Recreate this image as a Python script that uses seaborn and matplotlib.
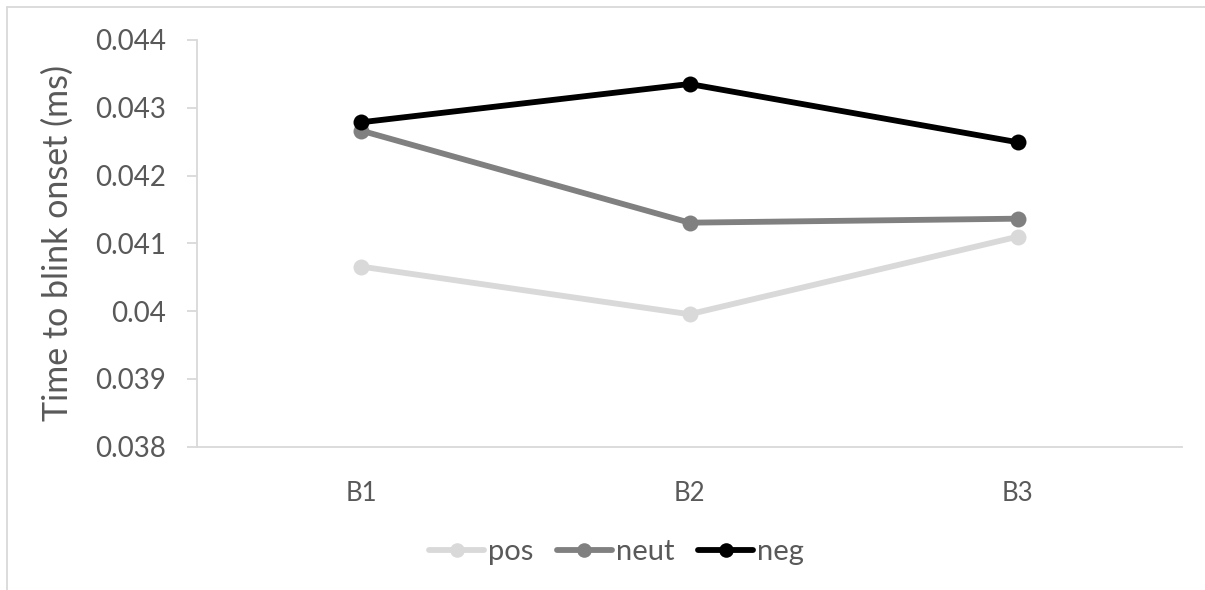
import matplotlib
matplotlib.use("Agg")
import matplotlib.pyplot as plt
from matplotlib.lines import Line2D
import seaborn as sns
import pandas as pd

# Blink-onset timing per block and valence condition
blocks = ["B1", "B2", "B3"]
conditions = ["pos", "neut", "neg"]
pos_vals = [0.040657, 0.039954, 0.041099]
neut_vals = [0.042663, 0.041305, 0.041364]
neg_vals = [0.042786, 0.043351, 0.042491]
y_ticks = [0.038, 0.039, 0.04, 0.041, 0.042, 0.043, 0.044]
y_tick_labels = ["0.038", "0.039", "0.04", "0.041", "0.042", "0.043", "0.044"]
colors = {"pos": "#D9D9D9", "neut": "#808080", "neg": "#000000"}

df = pd.DataFrame({
    "block": blocks * 3,
    "condition": ["pos"] * 3 + ["neut"] * 3 + ["neg"] * 3,
    "time": pos_vals + neut_vals + neg_vals,
})

sns.set_theme(style="white")
plt.rcParams["font.family"] = ["Lato", "DejaVu Sans"]

text_color = "#595959"
axis_color = "#D9D9D9"
line_w = 4.2
marker_s = 11.5

fig = plt.figure(figsize=(12.05, 5.90), dpi=100)
ax = fig.add_axes([197 / 1205, 1 - 446.7 / 590, (1182 - 197) / 1205, (446.7 - 40) / 590])

sns.lineplot(
    data=df, x="block", y="time", hue="condition", hue_order=conditions,
    palette=colors, marker="o", markersize=marker_s, markeredgewidth=0,
    linewidth=line_w, sort=False, legend=False, ax=ax,
)

ax.set_xlim(-0.5, 2.5)
ax.set_ylim(0.038, 0.044)
ax.set_yticks(y_ticks)
ax.set_yticklabels(y_tick_labels)
ax.set_xlabel("")
ax.set_ylabel("Time to blink onset (ms)", fontsize=24.5, color=text_color, labelpad=15)

for side in ["top", "right"]:
    ax.spines[side].set_visible(False)
for side in ["left", "bottom"]:
    ax.spines[side].set_color(axis_color)
    ax.spines[side].set_linewidth(1.3)

ax.tick_params(axis="y", which="both", left=True, length=7.5, width=1.3,
               color=axis_color, labelsize=20, labelcolor=text_color, pad=15)
ax.tick_params(axis="x", which="both", bottom=False, labelsize=18.5,
               labelcolor=text_color, pad=19)

handles = [
    Line2D([0], [0], color=colors[c], lw=line_w, marker="o", markersize=10.5,
           markeredgewidth=0, solid_capstyle="round")
    for c in conditions
]
fig.legend(handles, conditions, loc="center", bbox_to_anchor=(0.5115, 1 - 552 / 590),
           ncol=3, frameon=False, fontsize=21, handlelength=1.9,
           handletextpad=0.13, columnspacing=0.8, labelcolor=text_color)

# chart area border
fig.add_artist(Line2D([7 / 1205, 1.0], [1 - 7 / 590, 1 - 7 / 590],
                      transform=fig.transFigure, color=axis_color, lw=1.3))
fig.add_artist(Line2D([7 / 1205, 7 / 1205], [1 - 7 / 590, 0.0],
                      transform=fig.transFigure, color=axis_color, lw=1.3))

fig.savefig("out.png", dpi=100, facecolor="white")
